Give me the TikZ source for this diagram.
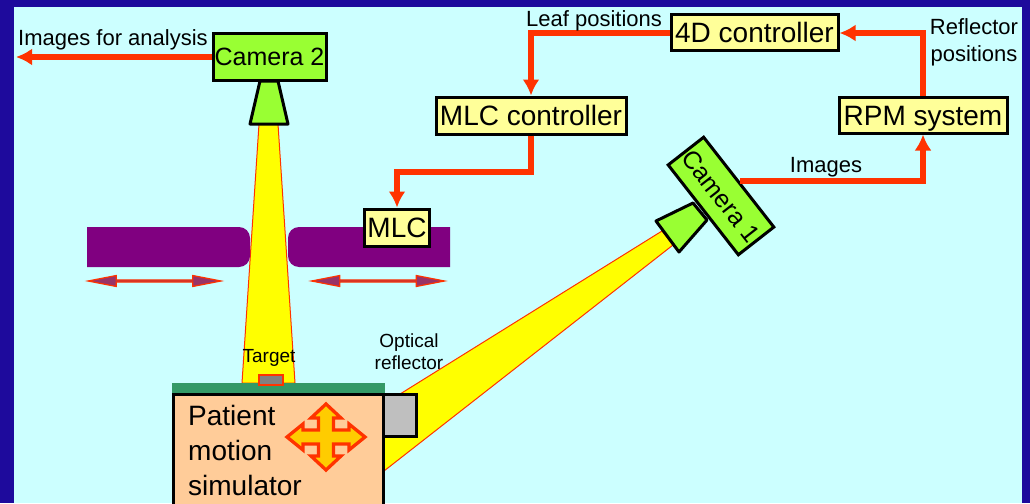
\documentclass[tikz,border=0pt]{standalone}
\usepackage{fontspec}
\setmainfont{Liberation Sans}
\usetikzlibrary{arrows.meta,shapes.arrows}
\definecolor{slidebg}{HTML}{1E0A9C}
\definecolor{panelbg}{HTML}{CCFFFF}
\definecolor{camgreen}{HTML}{99FF33}
\definecolor{ctrlyellow}{HTML}{FFFF99}
\definecolor{flowred}{HTML}{FF3300}
\definecolor{beamyellow}{HTML}{FFFF00}
\definecolor{leafpurple}{HTML}{800080}
\definecolor{movepurple}{HTML}{993366}
\definecolor{tablegreen}{HTML}{339966}
\definecolor{skin}{HTML}{FFCC99}
\definecolor{crossgold}{HTML}{FFCC00}
\tikzset{
	camerabox/.style={draw, line width=3pt, fill=camgreen, inner sep=0pt, text height=18pt, text depth=0pt, font=\fontsize{25}{28}\selectfont},
	ctrlbox/.style={draw, line width=3pt, fill=ctrlyellow, inner sep=0pt, text height=20pt, text depth=0pt, font=\fontsize{28}{30}\selectfont},
	flow/.style={draw=flowred, line width=6pt, -{Latex[length=16pt,width=17pt]}},
	beam/.style={draw=flowred, line width=1pt, fill=beamyellow},
	lens/.style={draw, line width=3pt, line join=round, fill=camgreen},
	leafmove/.style={double arrow, draw=flowred, line width=1.2pt, fill=movepurple, inner sep=0pt, minimum width=11pt, minimum height=133pt, double arrow head extend=2.5pt, double arrow tip angle=22},
	label/.style={inner sep=0pt, align=center, font=\fontsize{22}{27}\selectfont},
	smalllabel/.style={inner sep=0pt, align=center, font=\fontsize{19}{22}\selectfont},
}
\begin{document}
\begin{tikzpicture}[x=1pt,y=-1pt]
	\clip (0,0) rectangle (1030,503);
	\fill[slidebg] (0,0) rectangle (1030,503);
	\fill[panelbg] (14,7) rectangle (1022,503);

	% beams
	\draw[beam] (259,124) -- (278,124) -- (295,383) -- (242,383) -- cycle;
	\draw[beam] (662,231) -- (673,245) -- (384,471) -- (384,404) -- cycle;

	% leaves
	\fill[leafpurple] (87,227) [rounded corners=11pt] -- (250,227) -- (250,267) [sharp corners] -- (87,267) -- cycle;
	\fill[leafpurple] (450,227) [rounded corners=11pt] -- (288,227) -- (288,267) [sharp corners] -- (450,267) -- cycle;
	\node[leafmove] (moveleft) at (154.5,281) {};
	\node[leafmove] (moveright) at (378,281) {};

	% cameras
	\draw[lens] (260,81) -- (278,81) -- (288,124) -- (250,124) -- cycle;
	\draw[lens] (693,203) -- (707,220) -- (679,252) -- (656,221) -- cycle;
	\node[camerabox, minimum width=113pt, minimum height=46pt] (cam2) at (269.5,57) {Camera 2};
	\node[camerabox, minimum width=114pt, minimum height=45pt, rotate=-52] (cam1) at (721,196) {Camera 1};

	% controllers
	\node[ctrlbox, minimum width=65pt, minimum height=37pt] (mlc) at (397,227.5) {MLC};
	\node[ctrlbox, minimum width=190pt, minimum height=37pt] (mlcctrl) at (531,115.5) {MLC controller};
	\node[ctrlbox, minimum width=167pt, minimum height=36pt] (fourd) at (754.5,33) {4D controller};
	\node[ctrlbox, minimum width=168pt, minimum height=36pt] (rpm) at (923,115) {RPM system};

	% simulator
	\fill[tablegreen] (172,383) rectangle (385,393);
	\draw[line width=3pt, fill=skin] (173.5,394.5) rectangle (383,510);
	\draw[line width=3pt, fill=black!25] (383,394.5) rectangle (416,436.5);
	\draw[draw=flowred, line width=2pt, fill=black!50] (259,375) rectangle (283,385);
	\node[anchor=north west, inner sep=0pt, align=left, font=\fontsize{28}{35}\selectfont] (patient) at (188,405.5) {Patient\\motion\\simulator};
	\draw[shift={(326,437)}, draw=flowred, line width=3.3pt, fill=crossgold, line join=miter]
		(0,-33) -- (15,-19) -- (7.5,-19) -- (7.5,-7) -- (23,-7) -- (23,-13) -- (39,0)
		-- (23,13) -- (23,7) -- (7.5,7) -- (7.5,19) -- (15,19) -- (0,33) -- (-15,19)
		-- (-7.5,19) -- (-7.5,7) -- (-23,7) -- (-23,13) -- (-39,0) -- (-23,-13)
		-- (-23,-7) -- (-7.5,-7) -- (-7.5,-19) -- (-15,-19) -- cycle;

	% connectors
	\coordinate (analysis) at (16,57);
	\draw[flow] (cam2.west) -- (analysis);
	\draw[flow] (fourd.west) -| (mlcctrl.north);
	\draw[flow] (mlcctrl.south) -- ++(0,36) -| (mlc.north);
	\draw[flow] (cam1.north) -| (rpm.south);
	\draw[flow] (rpm.north) |- (fourd.east);

	% labels
	\node[label, anchor=west] (lblanalysis) at (18,40) {Images for analysis};
	\node[label, anchor=west] (lblleaf) at (526,21) {Leaf positions};
	\node[label] (lblrefl) at (974,42) {Reflector\\positions};
	\node[label] (lblimages) at (826,167) {Images};
	\node[smalllabel] (lbloptical) at (409,352) {Optical\\reflector};
	\node[smalllabel] (lbltarget) at (269,358) {Target};
\end{tikzpicture}
\end{document}
